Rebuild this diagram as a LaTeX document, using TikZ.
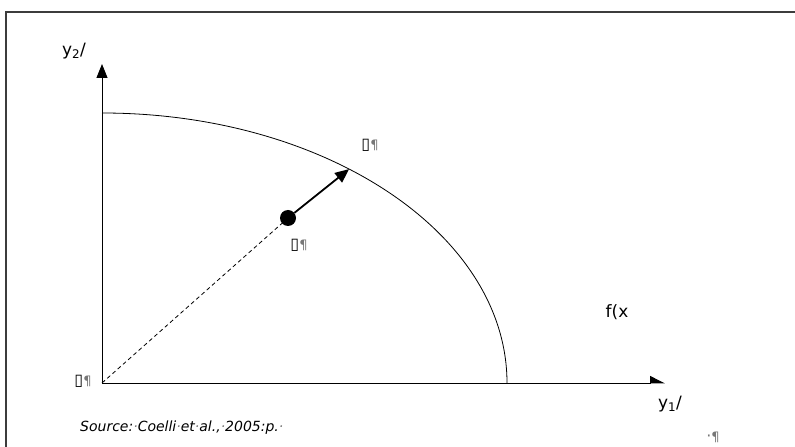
\documentclass[tikz,border=0pt]{standalone}
\usepackage{fontspec}
\setmainfont{DejaVu Sans}
\usetikzlibrary{arrows.meta,calc,positioning}
\definecolor{FrameGrey}{RGB}{60,60,60}
\definecolor{MarkGrey}{RGB}{120,120,120}
\newcommand{\pilc}{\textcolor{MarkGrey}{\fontsize{13}{14}\selectfont¶}}
\newcommand{\sdot}{\textcolor{MarkGrey}{·}}
\newcommand{\gapbox}{\textbf{▯}\pilc}
\tikzset{
  frameline/.style={draw=FrameGrey,line width=1.3pt},
  axisline/.style={line width=0.9pt},
  txt/.style={font=\fontsize{17}{19}\selectfont,inner sep=1pt},
  glyph/.style={font=\fontsize{16}{18}\selectfont,inner sep=1pt},
  dotnode/.style={circle,fill=black,inner sep=0pt,minimum size=16pt}
}

\begin{document}
\begin{tikzpicture}[x=1pt,y=1pt]
\useasboundingbox (0,0) rectangle (795,447);
\draw[frameline] (6,0) -- (6,435) -- (795,435);
% axes
\coordinate (O) at (102,64);
\coordinate (ytop) at (102,383);
\coordinate (xend) at (665,64);
\draw[axisline,-{Triangle[width=11pt,length=14pt]}] (O) -- (ytop);
\draw[axisline,-{Triangle[harpoon,width=14pt,length=14pt]}] (O) -- (xend);
% frontier
\draw[line width=0.8pt] (102,334) arc[start angle=90,end angle=0,x radius=405,y radius=270];
\coordinate (P) at ($(O)+(52.4:405 and 270)$);
\node[dotnode] (D) at (288,229) {};
\draw[dashed,line width=0.8pt,dash pattern=on 4pt off 3pt] (O) -- (D);
\draw[line width=1.8pt,-{Triangle[width=12pt,length=14pt]}] (D) -- (P);
% labels
\node[txt] (ylab2) at (74,396) {y\textsubscript{2}/};
\node[txt] (ylab1) at (670,43) {y\textsubscript{1}/};
\node[txt] (flab) at (617,135) {f(x};
\node[glyph] (pl) at (370,302) {\gapbox};
\node[glyph] (dl) at (299,202) {\gapbox};
\node[glyph] (ol) at (83,66) {\gapbox};
\node[txt,anchor=west,font=\fontsize{14}{16}\selectfont\itshape] (src) at (79,19)
  {Source:\sdot Coelli\sdot et\sdot al.,\sdot 2005:p.\sdot};
\node[glyph] (end) at (713,10) {\sdot\pilc};
\end{tikzpicture}
\end{document}
